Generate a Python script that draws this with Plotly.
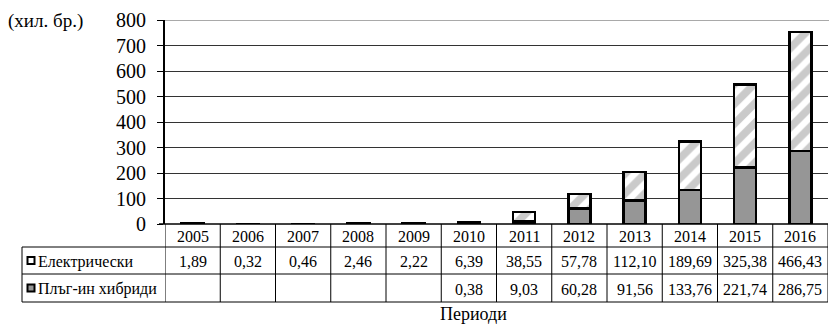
import plotly.graph_objects as go

# Data (thousand vehicles)
years = ["2005", "2006", "2007", "2008", "2009", "2010",
         "2011", "2012", "2013", "2014", "2015", "2016"]
electric = [1.89, 0.32, 0.46, 2.46, 2.22, 6.39,
            38.55, 57.78, 112.10, 189.69, 325.38, 466.43]
plugin_hybrid = [None, None, None, None, None, 0.38,
                 9.03, 60.28, 91.56, 133.76, 221.74, 286.75]
series_names = ["Електрически", "Плъг-ин хибриди"]
y_ticks = [0, 100, 200, 300, 400, 500, 600, 700, 800]
unit_label = "(хил. бр.)"
x_title = "Периоди"

W, H = 829, 324
FONT = "Liberation Serif, Times New Roman, serif"
GRAY = "#969696"

# Pixel layout helpers
X0, X1 = 165, 828          # plot area left/right
Y_TOP, Y_ZERO = 20, 224    # y pixel for 800 and 0
ROW1, ROW2, ROW3 = 247, 274, 302  # table row bottoms
LABEL_X = 22               # left edge of table label column


def px_x(px):
    return px / W


def px_y(py):
    return 1 - py / H


xs = list(range(len(years)))

fig = go.Figure()
fig.add_trace(go.Bar(
    x=xs, y=plugin_hybrid, name=series_names[1], width=0.4,
    marker=dict(color=GRAY, line=dict(color="black", width=2.5)),
))
fig.add_trace(go.Bar(
    x=xs, y=electric, name=series_names[0], width=0.4,
    marker=dict(color="white", line=dict(color="black", width=2.5),
                pattern=dict(shape="/", fgcolor=GRAY, bgcolor="white",
                             size=14, solidity=0.55, fillmode="overlay")),
))

shapes = []
# top gridline (lighter)
shapes.append(dict(type="line", xref="paper", yref="y", x0=px_x(X0), x1=1,
                   y0=800, y1=800, line=dict(color="#8c8c8c", width=1.5), layer="below"))
# table horizontal lines
shapes.append(dict(type="line", xref="paper", yref="paper", x0=px_x(X0 - 6), x1=px_x(X1),
                   y0=px_y(Y_ZERO), y1=px_y(Y_ZERO), line=dict(color="black", width=1.5)))
for yy in (ROW1, ROW2, ROW3):
    shapes.append(dict(type="line", xref="paper", yref="paper", x0=px_x(LABEL_X), x1=px_x(X1),
                       y0=px_y(yy), y1=px_y(yy), line=dict(color="black", width=1)))
# table vertical lines
for i in range(len(years) + 1):
    shapes.append(dict(type="line", xref="x", yref="paper", x0=i - 0.5, x1=i - 0.5,
                       y0=px_y(Y_ZERO), y1=px_y(ROW3), line=dict(color="black", width=1)))
shapes.append(dict(type="line", xref="paper", yref="paper", x0=px_x(LABEL_X), x1=px_x(LABEL_X),
                   y0=px_y(ROW1), y1=px_y(ROW3), line=dict(color="black", width=1)))
# legend keys in the table
for yc, fill in (((ROW1 + ROW2) / 2, "white"), ((ROW2 + ROW3) / 2, GRAY)):
    shapes.append(dict(type="rect", xref="paper", yref="paper",
                       x0=px_x(27.5), x1=px_x(34.5), y0=px_y(yc - 3.5), y1=px_y(yc + 3.5),
                       fillcolor=fill, line=dict(color="black", width=2)))

annotations = []
tf = dict(family=FONT, size=16, color="black")


def fmt(v):
    return "" if v is None else f"{v:.2f}".replace(".", ",")


def text_at(x, y, text, font, xref="x", xanchor="center", yref="paper"):
    return dict(x=x, y=y, xref=xref, yref=yref, text=text, showarrow=False,
                xanchor=xanchor, yanchor="middle", font=font)


# y-axis value labels, right-aligned left of the tick marks
for v in y_ticks:
    annotations.append(text_at(px_x(148), v, str(v), dict(family=FONT, size=20, color="black"),
                               xref="paper", xanchor="right", yref="y"))

for i, yr in enumerate(years):
    annotations.append(text_at(i, px_y((Y_ZERO + ROW1) / 2 + 1), yr, tf))
    annotations.append(text_at(i, px_y((ROW1 + ROW2) / 2 + 1), fmt(electric[i]), tf))
    annotations.append(text_at(i, px_y((ROW2 + ROW3) / 2 + 1), fmt(plugin_hybrid[i]), tf))
for yc, name in (((ROW1 + ROW2) / 2 + 1, series_names[0]), ((ROW2 + ROW3) / 2 + 1, series_names[1])):
    annotations.append(text_at(px_x(36), px_y(yc), name, tf, xref="paper", xanchor="left"))
annotations.append(text_at(px_x(6), px_y(21), unit_label,
                           dict(family=FONT, size=19, color="black"), xref="paper", xanchor="left"))
annotations.append(text_at(px_x(473), px_y(314), x_title,
                           dict(family=FONT, size=18, color="black"), xref="paper"))

fig.update_layout(
    width=W, height=H,
    margin=dict(l=0, r=0, t=0, b=0, autoexpand=False),
    paper_bgcolor="white", plot_bgcolor="white",
    barmode="stack", bargap=0.6, showlegend=False,
    font=dict(family=FONT, color="black"),
    xaxis=dict(domain=[px_x(X0), px_x(X1)], range=[-0.5, len(years) - 0.5],
               showticklabels=False, showgrid=False, zeroline=False, ticks="",
               automargin=False),
    yaxis=dict(domain=[px_y(Y_ZERO), px_y(Y_TOP)], range=[0, 800],
               tickvals=y_ticks, showticklabels=False, ticks="outside", ticklen=6,
               tickcolor="black", tickwidth=1, showline=True, linecolor="black",
               linewidth=1.5, showgrid=True, gridcolor="#333333", gridwidth=1,
               zeroline=False, automargin=False),
    shapes=shapes, annotations=annotations,
)

fig.write_html("out.html")
